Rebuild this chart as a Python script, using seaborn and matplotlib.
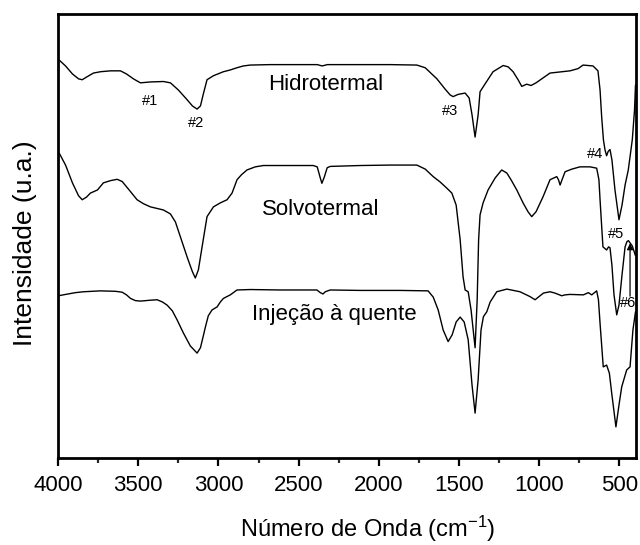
import matplotlib
matplotlib.use("Agg")
import matplotlib.pyplot as plt
import numpy as np
import pandas as pd
import seaborn as sns

# --- FTIR spectra (wavenumber in cm^-1, intensity in arbitrary units, offset per sample) ---
hidro_wn = [3995, 3953, 3910, 3872, 3849, 3822, 3779, 3735, 3673, 3611, 3573, 3530, 3486,
            3424, 3343, 3299, 3250, 3200, 3162, 3133, 3112, 3094, 3071, 3031, 2969, 2926,
            2884, 2845, 2801, 2677, 2490, 2384, 2353, 2321, 2116, 1929, 1763, 1711, 1638,
            1587, 1556, 1537, 1506, 1462, 1437, 1419, 1400, 1381, 1369, 1337, 1288, 1225,
            1194, 1163, 1132, 1109, 1078, 1051, 1020, 933, 808, 758, 727, 665, 634, 621,
            611, 600, 590, 580, 570, 559, 547, 528, 503, 484, 465, 445, 420, 406, 400]
hidro_int = [89.6, 88.2, 86.4, 85.3, 85.1, 85.7, 86.6, 86.9, 87.1, 87.1, 86.4, 85.3, 84.4,
             84.6, 84.7, 84.4, 82.8, 80.8, 79.2, 78.5, 79.2, 81.9, 85.1, 86.0, 86.9, 87.3,
             87.8, 88.2, 88.4, 88.5, 88.5, 88.5, 88.2, 88.5, 88.5, 88.5, 88.4, 87.8, 85.3,
             83.0, 81.7, 81.3, 81.8, 82.1, 81.0, 77.2, 72.2, 77.2, 82.4, 84.2, 86.9, 88.3,
             88.0, 86.9, 85.1, 83.6, 84.1, 83.8, 84.4, 86.6, 87.1, 87.6, 88.4, 88.2, 87.1, 82.8,
             76.8, 71.6, 69.3, 68.0, 69.0, 69.4, 67.1, 60.3, 53.6, 56.9, 61.4, 64.8, 71.6, 78.3, 83.9]

solvo_wn = [3997, 3953, 3910, 3872, 3849, 3822, 3798, 3779, 3754, 3717, 3673, 3631, 3600,
            3561, 3507, 3467, 3424, 3343, 3299, 3268, 3231, 3193, 3162, 3144, 3125, 3100,
            3071, 3031, 2988, 2946, 2915, 2884, 2857, 2822, 2770, 2720, 2552, 2409, 2384,
            2365, 2355, 2340, 2322, 2303, 2116, 1929, 1763, 1711, 1661, 1618, 1576, 1545,
            1518, 1493, 1475, 1462, 1443, 1425, 1400, 1387, 1378, 1369, 1350, 1319, 1275,
            1234, 1202, 1176, 1140, 1101, 1070, 1047, 1020, 976, 933, 891, 880, 870, 858,
            839, 796, 746, 683, 642, 628, 621, 603, 580, 568, 559, 547, 534, 517, 503, 484,
            465, 453, 444, 434, 420, 400]
solvo_int = [68.9, 65.9, 61.9, 59.0, 58.1, 58.7, 59.6, 59.9, 60.3, 61.9, 62.4, 62.7, 62.2,
             60.5, 58.1, 57.2, 56.5, 55.8, 54.9, 53.1, 49.1, 45.0, 41.9, 40.5, 42.3, 47.9,
             54.3, 56.5, 57.4, 58.1, 59.6, 62.6, 63.7, 64.8, 65.5, 65.8, 65.8, 65.8, 65.5,
             63.0, 61.8, 63.2, 65.3, 65.6, 65.8, 65.9, 65.9, 65.0, 63.3, 62.1, 60.7, 59.6,
             56.9, 49.1, 40.8, 37.8, 37.4, 33.3, 24.8, 35.6, 49.1, 54.7, 57.4, 60.3, 63.0,
             64.8, 64.1, 62.6, 60.3, 57.4, 55.4, 54.3, 55.4, 58.8, 62.6, 63.3, 62.6, 61.4, 62.6,
             64.4, 65.0, 65.5, 65.5, 65.2, 62.6, 58.1, 47.5, 46.8, 47.5, 47.3, 43.4, 36.7, 32.2,
             34.4, 41.2, 47.5, 48.7, 48.9, 48.4, 47.7, 45.5]

injec_wn = [3997, 3953, 3891, 3841, 3735, 3642, 3600, 3573, 3548, 3517, 3486, 3424, 3382,
            3349, 3320, 3287, 3258, 3218, 3175, 3133, 3112, 3094, 3081, 3063, 3040, 3008,
            2988, 2969, 2926, 2884, 2801, 2614, 2386, 2365, 2348, 2334, 2303, 2116, 1867,
            1693, 1661, 1630, 1599, 1568, 1543, 1518, 1493, 1468, 1443, 1419, 1400, 1381,
            1363, 1348, 1327, 1306, 1265, 1202, 1120, 1057, 1026, 995, 974, 933, 902, 860,
            839, 808, 725, 694, 673, 659, 642, 631, 621, 601, 580, 563, 547, 522, 503, 486,
            455, 434, 416, 400]
injec_int = [36.5, 36.8, 37.2, 37.4, 37.6, 37.5, 37.3, 36.7, 35.9, 35.4, 35.3, 35.5, 35.6,
             35.1, 34.4, 33.1, 31.1, 28.1, 25.2, 23.6, 24.8, 27.5, 29.5, 32.0, 33.3, 34.0,
             35.1, 35.9, 36.7, 37.8, 37.9, 37.8, 37.8, 37.2, 36.9, 37.4, 37.8, 37.7, 37.7,
             37.6, 36.2, 33.3, 28.8, 26.2, 27.7, 30.6, 31.7, 30.6, 26.6, 16.4, 10.1, 17.6,
             28.8, 31.8, 32.9, 35.1, 37.4, 38.0, 37.4, 36.3, 35.6, 36.5, 37.1, 37.4, 37.1, 36.5,
             36.7, 36.8, 36.7, 37.2, 36.7, 37.1, 37.6, 35.6, 30.3, 20.5, 20.9, 19.1, 14.2, 7.0,
             11.9, 16.0, 19.8, 20.5, 28.8, 32.9]

sample_names = ["Hidrotermal", "Solvotermal", "Injeção à quente"]
# label anchors (left edge, baseline) in data units
name_wn = [2689, 2726, 2789]
name_int = [82.8, 54.7, 31.05]

band_labels = ["#1", "#2", "#3", "#4", "#5", "#6"]
band_wn = [3474, 3193, 1605, 702, 571, 497]
band_int = [79.4, 74.5, 77.2, 67.5, 49.5, 34.0]

# arrow marking band #6 (wavenumber, start, end)
arrow_wn = 434
arrow_from, arrow_to = 36.4, 48.3

x_ticks = [4000, 3500, 3000, 2500, 2000, 1500, 1000, 500]

sns.set_theme(style="ticks")
plt.rcParams["font.family"] = ["Liberation Sans", "DejaVu Sans"]
plt.rcParams["mathtext.fontset"] = "custom"
plt.rcParams["mathtext.rm"] = "Liberation Sans"
plt.rcParams["mathtext.default"] = "regular"

fig = plt.figure(figsize=(6.4, 5.45), dpi=100)
ax = fig.add_axes([58 / 640, (545 - 458) / 545, (635.5 - 58) / 640, (458 - 13.5) / 545])

frames = []
for name, wn, it in zip(sample_names,
                        [hidro_wn, solvo_wn, injec_wn],
                        [hidro_int, solvo_int, injec_int]):
    frames.append(pd.DataFrame({"wn": wn, "int": it, "amostra": name}))
df = pd.concat(frames, ignore_index=True)

for name in sample_names:
    sub = df[df["amostra"] == name]
    sns.lineplot(data=sub, x="wn", y="int", sort=False, estimator=None,
                 color="black", linewidth=1.0, ax=ax, legend=False)

ax.set_xlim(4000, 400)
ax.set_ylim(0, 100)
ax.set_xticks(x_ticks)
ax.set_xticklabels([str(t) for t in x_ticks])
ax.set_xticks(np.arange(3750, 400, -500), minor=True)
ax.set_yticks([])

for s in ax.spines.values():
    s.set_visible(True)
    s.set_linewidth(2.0)
    s.set_color("black")

ax.tick_params(axis="x", which="major", direction="out", length=6, width=1.6,
               labelsize=16, pad=6, colors="black", top=False)
ax.tick_params(axis="x", which="minor", direction="out", length=3.6, width=1.6, top=False)

for name, x, y in zip(sample_names, name_wn, name_int):
    ax.text(x, y, name, fontsize=16, ha="left", va="baseline", color="black")

for lab, x, y in zip(band_labels, band_wn, band_int):
    ax.text(x, y, lab, fontsize=10.5, ha="left", va="baseline", color="black", clip_on=True)

ax.annotate("", xy=(arrow_wn, arrow_to), xytext=(arrow_wn, arrow_from),
            arrowprops=dict(arrowstyle="-|>", color="black", lw=0.9,
                            mutation_scale=9, shrinkA=0, shrinkB=0))

ax.set_xlabel("Número de Onda (cm$^{-1}$)", fontsize=17, color="black")
ax.xaxis.label.set_va("baseline")
ax.xaxis.set_label_coords(0.537, (458 - 537) / 444.5)
ax.set_ylabel("Intensidade (u.a.)", fontsize=19, color="black")
ax.yaxis.set_label_coords((37 - 58) / 577.5, (458 - 243.5) / 444.5)

fig.savefig("out.png", dpi=100)
